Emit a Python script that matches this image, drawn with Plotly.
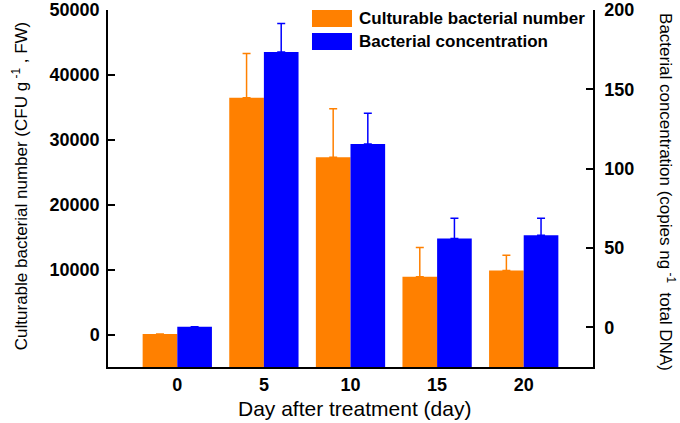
import plotly.graph_objects as go

days = [0, 5, 10, 15, 20]
day_labels = ["0", "5", "10", "15", "20"]
culturable = [100, 36500, 27300, 8900, 9850]
culturable_err = [0, 6800, 7500, 4500, 2350]
concentration = [0.3, 173.5, 115.5, 56, 58]
concentration_err = [0, 18, 19.5, 12.8, 10.7]

left_ticks = [0, 10000, 20000, 30000, 40000, 50000]
left_tick_labels = ["0", "10000", "20000", "30000", "40000", "50000"]
right_ticks = [0, 50, 100, 150, 200]
right_tick_labels = ["0", "50", "100", "150", "200"]

left_range = [-5000, 50000]
right_range = [-25, 200]

ORANGE = "#FF8000"
BLUE = "#0000FF"
FONT = "Arial, Liberation Sans, sans-serif"

fig = go.Figure()
fig.add_trace(go.Bar(
    x=days, y=[v - left_range[0] for v in culturable], base=[left_range[0]] * len(days),
    width=2, offset=-2, marker=dict(color=ORANGE, line=dict(width=0)),
    error_y=dict(type="data", symmetric=False, array=culturable_err,
                 arrayminus=[0] * len(days), color=ORANGE, thickness=1.5, width=4),
    name="Culturable bacterial number", yaxis="y", showlegend=False,
))
fig.add_trace(go.Bar(
    x=days, y=[v - right_range[0] for v in concentration], base=[right_range[0]] * len(days),
    width=2, offset=0, marker=dict(color=BLUE, line=dict(width=0)),
    error_y=dict(type="data", symmetric=False, array=concentration_err,
                 arrayminus=[0] * len(days), color=BLUE, thickness=1.5, width=4),
    name="Bacterial concentration", yaxis="y2", showlegend=False,
))

tickfont = dict(family=FONT, size=18, color="black", weight="bold")

fig.update_layout(
    width=680, height=423,
    margin=dict(l=108, r=87, t=10, b=56, autoexpand=False),
    paper_bgcolor="white", plot_bgcolor="white",
    barmode="overlay",
    xaxis=dict(range=[-4, 24], tickvals=days, ticktext=day_labels, ticks="",
               showline=True, linecolor="black", linewidth=1.5, showgrid=False,
               zeroline=False, tickfont=tickfont, ticklabelstandoff=1, automargin=False),
    yaxis=dict(range=left_range, tickvals=left_ticks, ticktext=left_tick_labels,
               ticks="inside", ticklen=7, tickwidth=1.5, tickcolor="black",
               showline=True, linecolor="black", linewidth=1.5, showgrid=False,
               zeroline=False, tickfont=tickfont, ticklabelstandoff=3, automargin=False,
               ticklabeloverflow="allow"),
    yaxis2=dict(range=right_range, tickvals=right_ticks, ticktext=right_tick_labels,
                overlaying="y", side="right", ticks="inside", ticklen=7, tickwidth=1.5,
                tickcolor="black", showline=True, linecolor="black", linewidth=1.5,
                showgrid=False, zeroline=False, tickfont=tickfont, ticklabelstandoff=6,
                automargin=False, ticklabeloverflow="allow"),
    showlegend=False,
)

# Axis titles
fig.add_annotation(text="Day after treatment (day)", xref="paper", yref="paper",
                   x=0.5075, y=-0.1176, xanchor="center", yanchor="middle", showarrow=False,
                   font=dict(family=FONT, size=21, color="black"))
fig.add_annotation(text="Culturable bacterial number (CFU g<sup> -1</sup> , FW)",
                   xref="paper", yref="paper", x=-0.181, y=0.507, textangle=-90,
                   xanchor="center", yanchor="middle", showarrow=False,
                   font=dict(family=FONT, size=17, color="black"))
fig.add_annotation(text="Bacterial concentration (copies ng<sup> -1</sup>  total DNA)",
                   xref="paper", yref="paper", x=1.1526, y=0.49, textangle=90,
                   xanchor="center", yanchor="middle", showarrow=False,
                   font=dict(family=FONT, size=17, color="black"))

# Legend (drawn manually)
legend_items = [("Culturable bacterial number", ORANGE, 1.0, 0.9524, 0.976),
                ("Bacterial concentration", BLUE, 0.9356, 0.888, 0.9118)]
for label, color, y1, y0, yc in legend_items:
    fig.add_shape(type="rect", xref="paper", yref="paper", x0=0.4206, x1=0.5031,
                  y0=y0, y1=y1, fillcolor=color, line=dict(width=0))
    fig.add_annotation(text=label, xref="paper", yref="paper", x=0.5134, y=yc,
                       xanchor="left", yanchor="middle", showarrow=False,
                       font=dict(family=FONT, size=17, color="black", weight="bold"))

fig.write_html("out.html", config={"displayModeBar": False},
               post_script="document.body.style.margin='0';document.body.style.overflow='hidden';")
